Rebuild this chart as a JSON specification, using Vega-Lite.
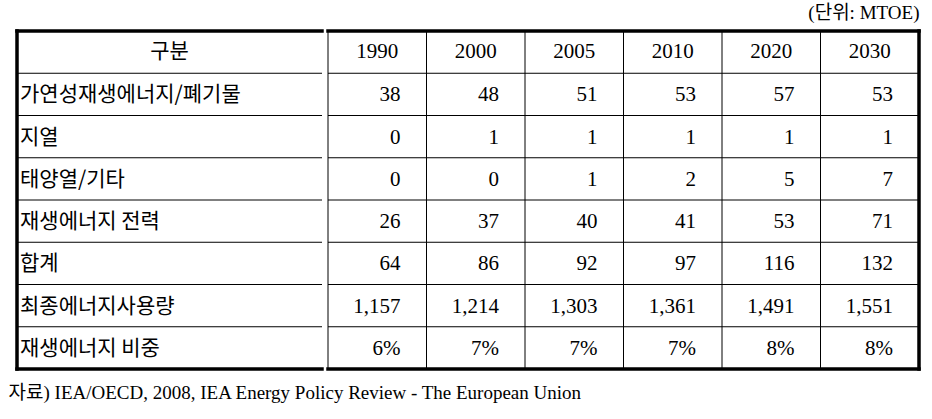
{
  "$schema": "https://vega.github.io/schema/vega-lite/v6.json",
  "padding": {"left": 8, "top": 3, "right": 5, "bottom": 5},
  "background": "white",
  "config": {"view": {"stroke": null}, "concat": {"spacing": 0}},
  "spacing": 0,
  "title": {
    "text": "자료) IEA/OECD, 2008, IEA Energy Policy Review - The European Union",
    "orient": "bottom", "anchor": "start", "dx": -6, "offset": 13,
    "font": "Liberation Serif, Noto Sans CJK KR", "fontSize": 19, "fontWeight": "normal", "color": "#000"
  },
  "datasets": {
    "cells": [
      {"row": "가연성재생에너지/폐기물", "year": "1990", "value": 38},
      {"row": "가연성재생에너지/폐기물", "year": "2000", "value": 48},
      {"row": "가연성재생에너지/폐기물", "year": "2005", "value": 51},
      {"row": "가연성재생에너지/폐기물", "year": "2010", "value": 53},
      {"row": "가연성재생에너지/폐기물", "year": "2020", "value": 57},
      {"row": "가연성재생에너지/폐기물", "year": "2030", "value": 53},
      {"row": "지열", "year": "1990", "value": 0},
      {"row": "지열", "year": "2000", "value": 1},
      {"row": "지열", "year": "2005", "value": 1},
      {"row": "지열", "year": "2010", "value": 1},
      {"row": "지열", "year": "2020", "value": 1},
      {"row": "지열", "year": "2030", "value": 1},
      {"row": "태양열/기타", "year": "1990", "value": 0},
      {"row": "태양열/기타", "year": "2000", "value": 0},
      {"row": "태양열/기타", "year": "2005", "value": 1},
      {"row": "태양열/기타", "year": "2010", "value": 2},
      {"row": "태양열/기타", "year": "2020", "value": 5},
      {"row": "태양열/기타", "year": "2030", "value": 7},
      {"row": "재생에너지 전력", "year": "1990", "value": 26},
      {"row": "재생에너지 전력", "year": "2000", "value": 37},
      {"row": "재생에너지 전력", "year": "2005", "value": 40},
      {"row": "재생에너지 전력", "year": "2010", "value": 41},
      {"row": "재생에너지 전력", "year": "2020", "value": 53},
      {"row": "재생에너지 전력", "year": "2030", "value": 71},
      {"row": "합계", "year": "1990", "value": 64},
      {"row": "합계", "year": "2000", "value": 86},
      {"row": "합계", "year": "2005", "value": 92},
      {"row": "합계", "year": "2010", "value": 97},
      {"row": "합계", "year": "2020", "value": 116},
      {"row": "합계", "year": "2030", "value": 132},
      {"row": "최종에너지사용량", "year": "1990", "value": 1157},
      {"row": "최종에너지사용량", "year": "2000", "value": 1214},
      {"row": "최종에너지사용량", "year": "2005", "value": 1303},
      {"row": "최종에너지사용량", "year": "2010", "value": 1361},
      {"row": "최종에너지사용량", "year": "2020", "value": 1491},
      {"row": "최종에너지사용량", "year": "2030", "value": 1551},
      {"row": "재생에너지 비중", "year": "1990", "value": 0.06},
      {"row": "재생에너지 비중", "year": "2000", "value": 0.07},
      {"row": "재생에너지 비중", "year": "2005", "value": 0.07},
      {"row": "재생에너지 비중", "year": "2010", "value": 0.07},
      {"row": "재생에너지 비중", "year": "2020", "value": 0.08},
      {"row": "재생에너지 비중", "year": "2030", "value": 0.08}
    ]
  },
  "hconcat": [
    {
      "width": 305,
      "height": 338,
      "data": {"name": "cells"},
      "layer": [
        {
          "transform": [{"filter": "datum.year == '1990'"}],
          "mark": {"type": "rule", "color": "#000", "strokeWidth": 1},
          "encoding": {
            "y": {"field": "row", "type": "nominal", "bandPosition": 0, "axis": null,
              "scale": {"domain": ["구분", "가연성재생에너지/폐기물", "지열", "태양열/기타", "재생에너지 전력", "합계", "최종에너지사용량", "재생에너지 비중"], "paddingInner": 0, "paddingOuter": 0}}
          }
        },
        {
          "transform": [{"filter": "datum.year == '1990'"}],
          "mark": {"type": "text", "align": "left", "dx": 3, "dy": 1, "font": "Noto Sans CJK KR", "fontSize": 21, "color": "#000"},
          "encoding": {
            "x": {"datum": "구분", "type": "nominal", "bandPosition": 0, "axis": null, "scale": {"domain": ["구분"], "paddingInner": 0, "paddingOuter": 0}},
            "y": {"field": "row", "type": "nominal"},
            "text": {"field": "row"}
          }
        },
        {
          "transform": [{"filter": "datum.year == '1990' && datum.row == '지열'"}],
          "mark": {"type": "text", "align": "center", "font": "Noto Sans CJK KR", "fontSize": 21, "color": "#000"},
          "encoding": {
            "x": {"datum": "구분", "type": "nominal"},
            "y": {"datum": "구분", "type": "nominal"},
            "text": {"value": "구분"}
          }
        },
        {
          "transform": [{"filter": "datum.year == '1990' && datum.row == '지열'"}],
          "mark": {"type": "rule", "color": "#000", "strokeWidth": 3.5, "strokeCap": "square"},
          "encoding": {"y": {"datum": "구분", "type": "nominal", "bandPosition": 0}}
        },
        {
          "transform": [{"filter": "datum.year == '1990' && datum.row == '지열'"}],
          "mark": {"type": "rule", "color": "#000", "strokeWidth": 3.5, "strokeCap": "square"},
          "encoding": {"y": {"datum": "재생에너지 비중", "type": "nominal", "bandPosition": 1}}
        },
        {
          "transform": [{"filter": "datum.year == '1990' && datum.row == '지열'"}],
          "mark": {"type": "rule", "color": "#000", "strokeWidth": 3.5, "strokeCap": "square"},
          "encoding": {"x": {"datum": "구분", "type": "nominal", "bandPosition": 0}}
        }
      ]
    },
    {
      "width": 591,
      "height": 338,
      "data": {"name": "cells"},
      "title": {"text": "(단위: MTOE)", "anchor": "end", "dx": -2, "offset": 6, "font": "Liberation Serif, Noto Sans CJK KR", "fontSize": 19, "fontWeight": "normal", "color": "#000"},
      "layer": [
        {
          "transform": [{"filter": "datum.year == '1990'"}],
          "mark": {"type": "rule", "color": "#000", "strokeWidth": 1},
          "encoding": {
            "y": {"field": "row", "type": "nominal", "bandPosition": 0, "axis": null,
              "scale": {"domain": ["구분", "가연성재생에너지/폐기물", "지열", "태양열/기타", "재생에너지 전력", "합계", "최종에너지사용량", "재생에너지 비중"], "paddingInner": 0, "paddingOuter": 0}}
          }
        },
        {
          "transform": [{"filter": "datum.row == '지열'"}],
          "mark": {"type": "rule", "color": "#000", "strokeWidth": 1},
          "encoding": {
            "x": {"field": "year", "type": "nominal", "bandPosition": 0, "axis": null,
              "scale": {"domain": ["1990", "2000", "2005", "2010", "2020", "2030"], "paddingInner": 0, "paddingOuter": 0}}
          }
        },
        {
          "transform": [{"filter": "datum.row == '지열'"}],
          "mark": {"type": "text", "align": "center", "font": "Liberation Serif", "fontSize": 21, "color": "#000"},
          "encoding": {
            "x": {"field": "year", "type": "nominal"},
            "y": {"datum": "구분", "type": "nominal"},
            "text": {"field": "year"}
          }
        },
        {
          "transform": [{"filter": "datum.row != '재생에너지 비중'"}],
          "mark": {"type": "text", "align": "right", "dx": -26, "dy": 1, "font": "Liberation Serif", "fontSize": 21, "color": "#000"},
          "encoding": {
            "x": {"field": "year", "type": "nominal", "bandPosition": 1},
            "y": {"field": "row", "type": "nominal"},
            "text": {"field": "value", "type": "quantitative", "format": ","}
          }
        },
        {
          "transform": [{"filter": "datum.row == '재생에너지 비중'"}],
          "mark": {"type": "text", "align": "right", "dx": -26, "dy": 1, "font": "Liberation Serif", "fontSize": 21, "color": "#000"},
          "encoding": {
            "x": {"field": "year", "type": "nominal", "bandPosition": 1},
            "y": {"field": "row", "type": "nominal"},
            "text": {"field": "value", "type": "quantitative", "format": ".0%"}
          }
        },
        {
          "transform": [{"filter": "datum.year == '1990' && datum.row == '지열'"}],
          "mark": {"type": "rule", "color": "#000", "strokeWidth": 3.5, "strokeCap": "square"},
          "encoding": {"y": {"datum": "구분", "type": "nominal", "bandPosition": 0}}
        },
        {
          "transform": [{"filter": "datum.year == '1990' && datum.row == '지열'"}],
          "mark": {"type": "rule", "color": "#000", "strokeWidth": 3.5, "strokeCap": "square"},
          "encoding": {"y": {"datum": "재생에너지 비중", "type": "nominal", "bandPosition": 1}}
        },
        {
          "transform": [{"filter": "datum.year == '1990' && datum.row == '지열'"}],
          "mark": {"type": "rule", "color": "#000", "strokeWidth": 3.5, "strokeCap": "square"},
          "encoding": {"x": {"datum": "2030", "type": "nominal", "bandPosition": 1}}
        }
      ]
    }
  ]
}
